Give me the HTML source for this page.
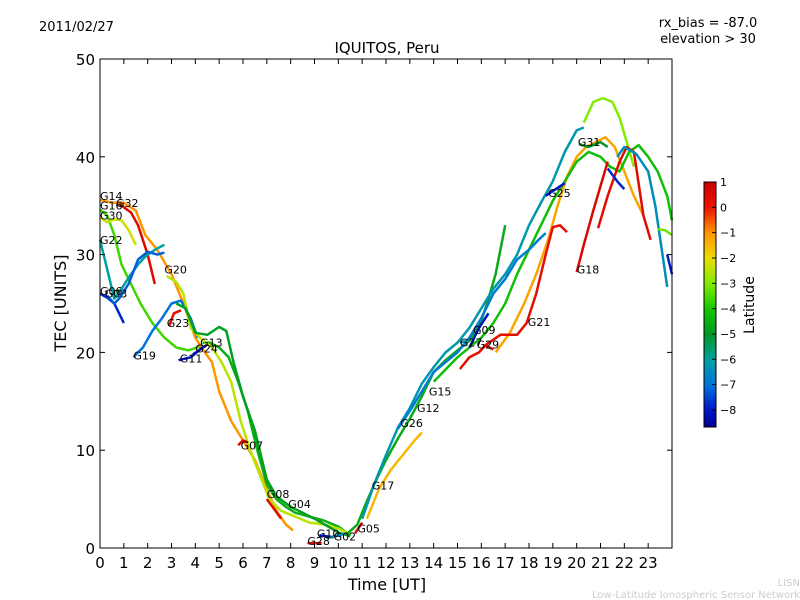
<!DOCTYPE html>
<html><head><meta charset="utf-8"><style>
body{margin:0;background:#fff;}
svg{display:block;font-family:"DejaVu Sans","Liberation Sans",sans-serif;}
</style></head><body>
<svg id="chart" width="800" height="600">
<text x="39" y="31" font-size="13">2011/02/27</text>
<text x="708" y="27" font-size="13" text-anchor="middle">rx_bias = -87.0</text>
<text x="708" y="43" font-size="13" text-anchor="middle">elevation &gt; 30</text>
<text x="387" y="53" font-size="15" text-anchor="middle">IQUITOS, Peru</text>
<g id="plot"></g>
<g id="axes"></g>
<rect x="100" y="59" width="572" height="489" fill="none" stroke="#000" stroke-width="1"/>
<text x="387" y="590" font-size="16" text-anchor="middle">Time [UT]</text>
<text transform="translate(66,303) rotate(-90)" font-size="16" text-anchor="middle">TEC [UNITS]</text>
<g id="cbar"></g>
<text transform="translate(754,305) rotate(-90)" font-size="14" text-anchor="middle">Latitude</text>
<text x="800" y="586" font-size="10" fill="#ccc" text-anchor="end">LISN</text>
<text x="800" y="598" font-size="10" fill="#ccc" text-anchor="end">Low-Latitude Ionospheric Sensor Network</text>
</svg>
<script>
const xTicks=[0,1,2,3,4,5,6,7,8,9,10,11,12,13,14,15,16,17,18,19,20,21,22,23];
const yTicks=[0,10,20,30,40,50];
const cbTicks=[1,0,-1,-2,-3,-4,-5,-6,-7,-8];
const satNames=["G14","G32","G16","G30","G22","G06","G03","G19","G23","G11","G24","G13","G20","G07","G08","G04","G28","G10","G02","G05","G17","G26","G12","G15","G27","G09","G29","G21","G18","G25","G31"];
const satLat=[-1.0,0.5,-3.6,-2.3,-6.0,-7.8,-7.2,-7.0,0.3,-8.0,-8.2,-4.5,-2.5,0.6,0.4,-4.8,0.5,-8.0,-6.5,0.6,-4.6,-6.2,-1.5,-6.8,-6.3,-8.0,0.4,0.3,0.6,-8.0,-5.0];
const labelT=[0,0.67,0,0,0,0,0.2,1.4,2.8,3.35,4.0,4.2,2.7,5.9,7.0,7.9,8.7,9.1,9.8,10.8,11.4,12.6,13.3,13.8,15.1,15.65,15.8,17.95,20.0,18.8,20.05];
const labelV=[36,35.3,35,34,31.5,26.3,26,19.7,23,19.4,20.4,21,28.5,10.5,5.5,4.5,0.7,1.5,1.2,2,6.4,12.8,14.3,16,21,22.3,20.8,23.1,28.5,36.3,41.5];
const satTrack=[
[[0,35.6],[0.5,35.3],[1,35.3],[1.5,34.5],[1.9,32],[2.4,30.5],[3,28],[3.5,25],[4,21.5],[4.4,20],[4.7,19],[5,16],[5.5,13],[6,11],[6.5,9],[7,6],[7.4,3.8],[7.8,2.4],[8.1,1.8]],
[[0.8,35.2],[1.3,34.3],[1.6,33],[2,30],[2.3,27]],
[[0,34.6],[0.3,34],[0.6,32],[0.9,29],[1.3,27],[1.7,25],[2.2,23],[2.7,21.5],[3.2,20.5],[3.7,20.2],[4.2,20.6]],
[[0,33.8],[0.3,33.3],[0.6,33.6],[0.9,33.5],[1.2,32.5],[1.5,31]],
[[0,31.5],[0.3,28.5],[0.6,25.5],[0.9,26.5],[1.3,28],[1.6,29],[1.9,29.8],[2.3,30.5],[2.7,31]],
[[0,26],[0.3,25.6],[0.6,25],[0.8,24],[1,23]],
[[0.3,25.8],[0.6,25],[0.8,25.5],[1.2,27],[1.6,29.5],[2,30.3],[2.4,30],[2.7,30.2]],
[[1.4,19.5],[1.8,20.5],[2.2,22.2],[2.6,23.5],[3,25],[3.4,25.3],[3.8,23.5],[4.1,21.5]],
[[2.9,22.7],[3.1,24],[3.4,24.3]],
[[3.3,19.2],[3.8,19.5],[4.3,20.5]],
[[3.9,19.8],[4.2,20.3],[4.5,20.8]],
[[4.3,21],[4.6,21],[5,20.5],[5.4,19.5],[5.8,17],[6.2,14],[6.6,10],[7,6.5],[7.4,5],[7.8,4.2],[8.2,3.6],[8.8,3.2],[9.4,2.8],[10,2.2],[10.5,1.3]],
[[2.8,27.8],[3.2,27.2],[3.5,26],[3.8,22.5],[4.2,21.5],[4.7,20.5],[5.1,19],[5.5,17],[5.9,13],[6.3,10],[6.7,7.5],[7.1,5],[7.6,3.8],[8.2,3.2],[8.8,2.6],[9.4,2.4],[10,2],[10.4,1.5]],
[[5.8,10.5],[6,11],[6.2,10.8]],
[[7,5],[7.3,4],[7.6,3]],
[[3.2,25],[3.6,24.5],[4,22],[4.5,21.8],[5,22.6],[5.3,22.2],[5.6,19],[6,15.5],[6.5,12],[7,7],[7.4,5.3],[8,4.2],[8.5,3.6],[9,3],[9.5,2.3],[10,1.6],[10.5,1.2]],
[[8.7,0.5],[9.3,0.5]],
[[9.2,1.3],[9.8,1.1]],
[[9.5,1],[10,1.3],[10.4,1.5]],
[[10.7,1.5],[11,2.6]],
[[10.3,1.3],[10.8,2.4],[11.2,4.8],[11.6,7],[12,9],[12.5,11.2],[13,13.2],[13.5,15.5],[14,18],[14.5,19.2],[15,20.2],[15.5,21.2],[16,23.2],[16.3,25.5],[16.6,28],[17,33]],
[[11,3],[11.5,6.5],[12,9.5],[12.5,12.3],[13,14.3],[13.5,16.8],[14,18.5],[14.5,20],[15,21],[15.5,22.5],[16,24.5],[16.5,26.5],[17,28],[17.5,30],[18,33],[18.5,35.3],[19,37.5],[19.5,40.5],[20,42.7],[20.3,43]],
[[11.2,3],[11.7,6],[12.2,8],[12.7,9.5],[13.2,11],[13.5,11.8]],
[[12.5,12.2],[13,14],[13.5,16],[14,18],[14.5,19],[15,20],[15.5,21.5],[16,23.5],[16.5,26],[17,27.5],[17.5,29.5],[18,30.5],[18.4,31.5],[18.7,32.2]],
[[15.1,21],[15.4,21.2]],
[[15.5,20.5],[15.9,22.5],[16.3,24]],
[[16.2,20.7],[16.5,20.3]],
[[15.1,18.3],[15.5,19.5],[15.9,20],[16.2,20.8],[16.8,21.8],[17.5,21.8],[17.9,23],[18.3,26],[18.7,30],[19,32.8],[19.3,33],[19.6,32.3]],
[[20,28.2],[20.3,31],[20.7,34.5],[21,37],[21.3,39.5]],
[[18.7,36],[19,36.5],[19.5,37.3]],
[[20.1,41.3],[20.5,41],[21,41.5],[21.3,41]]
];
const extraLat=[-3.0,-1.2,-4.2,0.4,-6.4,-7.8,-7.9,-3.2,-8.0];
const extraTrack=[
[[20.3,43.5],[20.7,45.6],[21.1,46],[21.5,45.6],[21.8,44],[22.1,41.5],[22.4,39]],
[[16.6,20],[17.2,22],[17.8,25],[18.3,28],[18.8,31.5],[19.2,35],[19.6,38],[20,40],[20.4,41],[20.8,41.5],[21.2,42],[21.6,41],[22,38.5],[22.4,36],[22.8,34]],
[[14,17],[15,19.5],[16,21.5],[16.5,23],[17,25],[17.5,28],[18,30.5],[18.5,33],[19,35.5],[19.5,37.5],[20,39.5],[20.5,40.5],[21,40],[21.4,39],[21.8,38.5],[22.2,40.5],[22.6,41.2],[23,40],[23.4,38.5],[23.8,36],[24,33.5]],
[[20.9,32.7],[21.3,36],[21.8,39.5],[22.1,41],[22.4,40.5],[22.8,34],[23.1,31.5]],
[[21.7,40],[22,41],[22.5,40.3],[23,38.5],[23.3,35],[23.6,30],[23.8,26.7]],
[[21.3,38.8],[21.7,37.5],[22,36.7]],
[[23.8,30],[24,28]],
[[23.4,32.6],[23.7,32.5],[24,32]],
[[6.3,13],[6.6,10.5],[6.8,8.5]]
];
const ns="http://www.w3.org/2000/svg";
const X=t=>100+t*572/24, Y=v=>548-v*489/50;
const stops=[[1,[204,0,0]],[0,[238,20,0]],[-1,[255,150,0]],[-2,[235,220,0]],[-3,[130,235,0]],[-4,[20,200,0]],[-5,[0,150,40]],[-6,[0,160,160]],[-7,[0,115,220]],[-8,[0,20,200]],[-8.7,[0,0,140]]];
function col(l){if(l>=1)return 'rgb(204,0,0)';for(let i=0;i<stops.length-1;i++){const a=stops[i],b=stops[i+1];if(l<=a[0]&&l>=b[0]){const f=(a[0]-l)/(a[0]-b[0]);const c=a[1].map((v,k)=>Math.round(v+(b[1][k]-v)*f));return `rgb(${c})`;}}return 'rgb(0,0,140)';}
const plot=document.getElementById('plot');
function drawTrack(pts,lat){const p=document.createElementNS(ns,'path');
p.setAttribute('d',pts.map((q,i)=>(i?'L':'M')+X(q[0]).toFixed(1)+','+Y(q[1]).toFixed(1)).join(''));
p.setAttribute('fill','none');p.setAttribute('stroke',col(lat));p.setAttribute('stroke-width','2.5');p.setAttribute('stroke-linejoin','round');
return p;}
extraTrack.forEach((pts,i)=>{const p=drawTrack(pts,extraLat[i]);


plot.appendChild(p);});
satTrack.forEach((pts,i)=>{const p=drawTrack(pts,satLat[i]);


plot.appendChild(p);});
satNames.forEach((n,i)=>{const t=document.createElementNS(ns,'text');t.setAttribute('x',X(labelT[i]).toFixed(1));t.setAttribute('y',(Y(labelV[i])+4).toFixed(1));t.setAttribute('font-size','11');t.textContent=n;


plot.appendChild(t);});
const axes=document.getElementById('axes');
function line(x1,y1,x2,y2){const l=document.createElementNS(ns,'line');l.setAttribute('x1',x1);l.setAttribute('y1',y1);l.setAttribute('x2',x2);l.setAttribute('y2',y2);l.setAttribute('stroke','#000');return l;}
xTicks.forEach(v=>{const l1=line(X(v),548,X(v),543);
axes.appendChild(l1);
const l2=line(X(v),59,X(v),64);
axes.appendChild(l2);
const t=document.createElementNS(ns,'text');t.setAttribute('x',X(v));t.setAttribute('y',568);t.setAttribute('font-size','15');t.setAttribute('text-anchor','middle');t.textContent=v;

axes.appendChild(t);});
yTicks.forEach(v=>{const l1=line(100,Y(v),105,Y(v));
axes.appendChild(l1);
const l2=line(667,Y(v),672,Y(v));
axes.appendChild(l2);
const t=document.createElementNS(ns,'text');t.setAttribute('x',95);t.setAttribute('y',Y(v)+6);t.setAttribute('font-size','15');t.setAttribute('text-anchor','end');t.textContent=v;

axes.appendChild(t);});
const cb=document.getElementById('cbar');const CY=v=>182+(1-v)*25.33;
for(let y=182;y<427;y++){const r=document.createElementNS(ns,'rect');r.setAttribute('x',704);r.setAttribute('y',y);r.setAttribute('width',12);r.setAttribute('height',1.2);r.setAttribute('fill',col(1-(y-182)/25.33));

cb.appendChild(r);}
const fr=document.createElementNS(ns,'rect');fr.setAttribute('x',704);fr.setAttribute('y',182);fr.setAttribute('width',12);fr.setAttribute('height',245);fr.setAttribute('fill','none');fr.setAttribute('stroke','#000');

cb.appendChild(fr);
cbTicks.forEach(v=>{const l=line(712,CY(v),716,CY(v));
cb.appendChild(l);
const t=document.createElementNS(ns,'text');t.setAttribute('x',720);t.setAttribute('y',CY(v)+4);t.setAttribute('font-size','11');t.textContent=v<0?'\u2212'+(-v):v;

cb.appendChild(t);});
</script>
</body></html>
